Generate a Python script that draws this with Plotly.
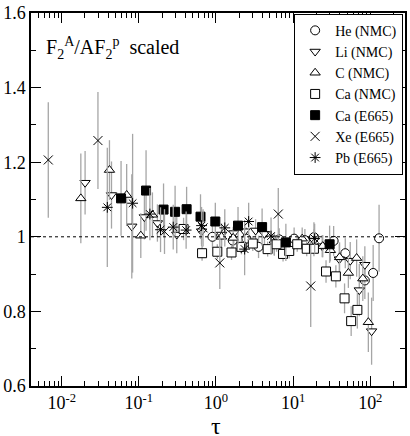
import plotly.graph_objects as go

# ── Data (tau, ratio, error) ────────────────────────────────────────────────
he_tau = [0.90, 1.65, 2.48, 3.56, 6.6, 10.3, 14.2, 18.6, 33.5, 47.4, 85, 109, 130]
he_val = [1.000, 0.990, 0.995, 0.973, 0.993, 0.995, 0.991, 0.999, 0.989, 0.956, 0.883, 0.903, 0.996]
he_err = [0.03, 0.03, 0.03, 0.03, 0.03, 0.03, 0.03, 0.04, 0.04, 0.04, 0.05, 0.075, 0.09]

li_tau = [0.0201, 0.0442, 0.081, 0.118, 0.174, 0.31, 0.65, 1.18, 1.7, 2.35,
          3.26, 4.25, 5.7, 18.6, 23.8, 39.7, 55, 72, 85, 104]
li_val = [1.145, 1.112, 1.028, 1.053, 1.037, 1.006, 1.015, 1.006, 1.010, 1.015,
          1.017, 1.008, 0.980, 0.990, 0.975, 0.940, 0.936, 0.857, 0.925, 0.747]
li_err = [0.085, 0.09, 0.14, 0.06, 0.05, 0.05, 0.04, 0.03, 0.03, 0.03,
          0.03, 0.03, 0.03, 0.03, 0.03, 0.04, 0.05, 0.07, 0.05, 0.09]

c_tau = [0.0177, 0.0416, 0.0695, 0.106, 0.15, 1.18, 1.67, 5.7, 13.1, 24.2,
         30.4, 40, 52, 66.5, 80, 94.4]
c_val = [1.103, 1.179, 1.112, 1.003, 1.059, 1.000, 0.997, 0.980, 0.995, 0.975,
         0.964, 0.945, 0.903, 0.943, 0.888, 0.771]
c_err = [0.12, 0.08, 0.083, 0.06, 0.06, 0.03, 0.03, 0.03, 0.03, 0.03,
         0.03, 0.04, 0.04, 0.05, 0.06, 0.08]

can_tau = [0.38, 0.66, 1.04, 1.59, 2.14, 3.0, 4.67, 6.1, 7.4, 8.9, 11.3, 15,
           18.6, 26.7, 35.8, 46.4, 56.5, 68]
can_val = [1.021, 0.956, 0.960, 0.958, 0.973, 0.982, 0.967, 0.980, 0.954, 0.962,
           0.980, 0.968, 0.968, 0.907, 0.894, 0.835, 0.774, 0.804]
can_err = [0.03, 0.02, 0.02, 0.02, 0.02, 0.02, 0.02, 0.02, 0.02, 0.02, 0.02,
           0.02, 0.02, 0.03, 0.03, 0.04, 0.04, 0.05]

cae_tau = [0.0588, 0.124, 0.209, 0.295, 0.416, 0.63, 0.98, 1.93, 3.96, 8.05, 29.7]
cae_val = [1.103, 1.124, 1.073, 1.067, 1.074, 1.054, 1.041, 1.030, 1.026, 0.985, 0.980]
cae_err = [0.10, 0.108, 0.07, 0.07, 0.06, 0.06, 0.05, 0.05, 0.05, 0.05, 0.05]

xe_tau = [0.0067, 0.0295, 0.215, 0.68, 1.12, 6.42, 16.9]
xe_val = [1.206, 1.258, 1.014, 1.024, 0.930, 1.061, 0.868]
xe_err = [0.155, 0.13, 0.06, 0.05, 0.07, 0.07, 0.11]

pb_tau = [0.039, 0.083, 0.139, 0.191, 0.279, 0.41, 0.65, 1.30, 2.35, 2.65, 5.17, 19]
pb_val = [1.079, 1.090, 1.061, 1.019, 1.026, 1.018, 1.030, 1.024, 0.967, 1.041, 1.002, 0.995]
pb_err = [0.16, 0.186, 0.07, 0.06, 0.06, 0.05, 0.05, 0.05, 0.07, 0.05, 0.05, 0.04]

x_major = [0.01, 0.1, 1, 10, 100]
x_major_text = ["10<sup>-2</sup>", "10<sup>-1</sup>", "10<sup>0</sup>", "10<sup>1</sup>", "10<sup>2</sup>"]
y_major = [0.6, 0.8, 1.0, 1.2, 1.4, 1.6]
y_major_text = ["0.6", "0.8", "1", "1.2", "1.4", "1.6"]

FONT = "Liberation Serif"
C_BAR = "#a6a6a6"

series = [
    ("He (NMC)", he_tau, he_val, he_err, "circle", "white"),
    ("Li (NMC)", li_tau, li_val, li_err, "triangle-down", "white"),
    ("C (NMC)", c_tau, c_val, c_err, "triangle-up", "white"),
    ("Ca (NMC)", can_tau, can_val, can_err, "square", "white"),
    ("Ca (E665)", cae_tau, cae_val, cae_err, "square", "black"),
    ("Xe (E665)", xe_tau, xe_val, xe_err, "x-thin-open", "black"),
    ("Pb (E665)", pb_tau, pb_val, pb_err, "asterisk-open", "black"),
]

fig = go.Figure()
for name, xs, ys, es, sym, fill in series:
    fig.add_trace(go.Scatter(
        x=xs, y=ys, name=name, mode="markers",
        error_y=dict(type="data", array=es, color=C_BAR, thickness=1.3, width=0),
        marker=dict(symbol=sym, size=9, color=fill, line=dict(color="black", width=1)),
    ))

fig.add_hline(y=1.0, line=dict(color="black", width=1, dash="dot"))

minor_x = [m * 10 ** k for k in range(-3, 3) for m in range(2, 10)]

fig.update_layout(
    width=410, height=436,
    paper_bgcolor="white", plot_bgcolor="white",
    font=dict(family=FONT, size=18, color="black"),
    margin=dict(l=29, r=3, t=8, b=50),
    showlegend=True,
    legend=dict(
        x=0.995, y=0.998, xanchor="right", yanchor="top",
        bordercolor="black", borderwidth=1, bgcolor="white",
        font=dict(family=FONT, size=14), tracegroupgap=0,
    ),
    xaxis=dict(
        type="log", range=[-2.398, 2.45],
        tickvals=x_major, ticktext=x_major_text,
        ticks="inside", ticklen=10, tickwidth=1, tickcolor="black",
        minor=dict(tickvals=minor_x, ticks="inside", ticklen=5, tickwidth=1, tickcolor="black"),
        showline=True, linecolor="black", linewidth=1.5, mirror="allticks",
        showgrid=False, zeroline=False, ticklabeloverflow="allow",
    ),
    yaxis=dict(
        range=[0.6, 1.6],
        tickvals=y_major, ticktext=y_major_text,
        ticks="inside", ticklen=10, tickwidth=1, tickcolor="black",
        minor=dict(dtick=0.1, ticks="inside", ticklen=5, tickwidth=1, tickcolor="black"),
        showline=True, linecolor="black", linewidth=1.5, mirror="allticks",
        showgrid=False, zeroline=False, ticklabeloverflow="allow",
    ),
    annotations=[
        dict(
            text="F<sub>2</sub><sup>A</sup>/AF<sub>2</sub><sup>p</sup>  scaled",
            xref="paper", yref="paper", x=0.035, y=0.905,
            xanchor="left", yanchor="middle", showarrow=False,
            font=dict(family=FONT, size=20, color="black"),
        ),
        dict(
            text="τ", xref="paper", yref="paper", x=0.495, y=-0.108,
            xanchor="center", yanchor="middle", showarrow=False,
            font=dict(family=FONT, size=24, color="black"),
        ),
    ],
)

# the page body has a default 8px margin; drop it so the figure sits at the window corner
fig.write_html("out.html", config={"displayModeBar": False},
               post_script="document.body.style.margin='0';")
